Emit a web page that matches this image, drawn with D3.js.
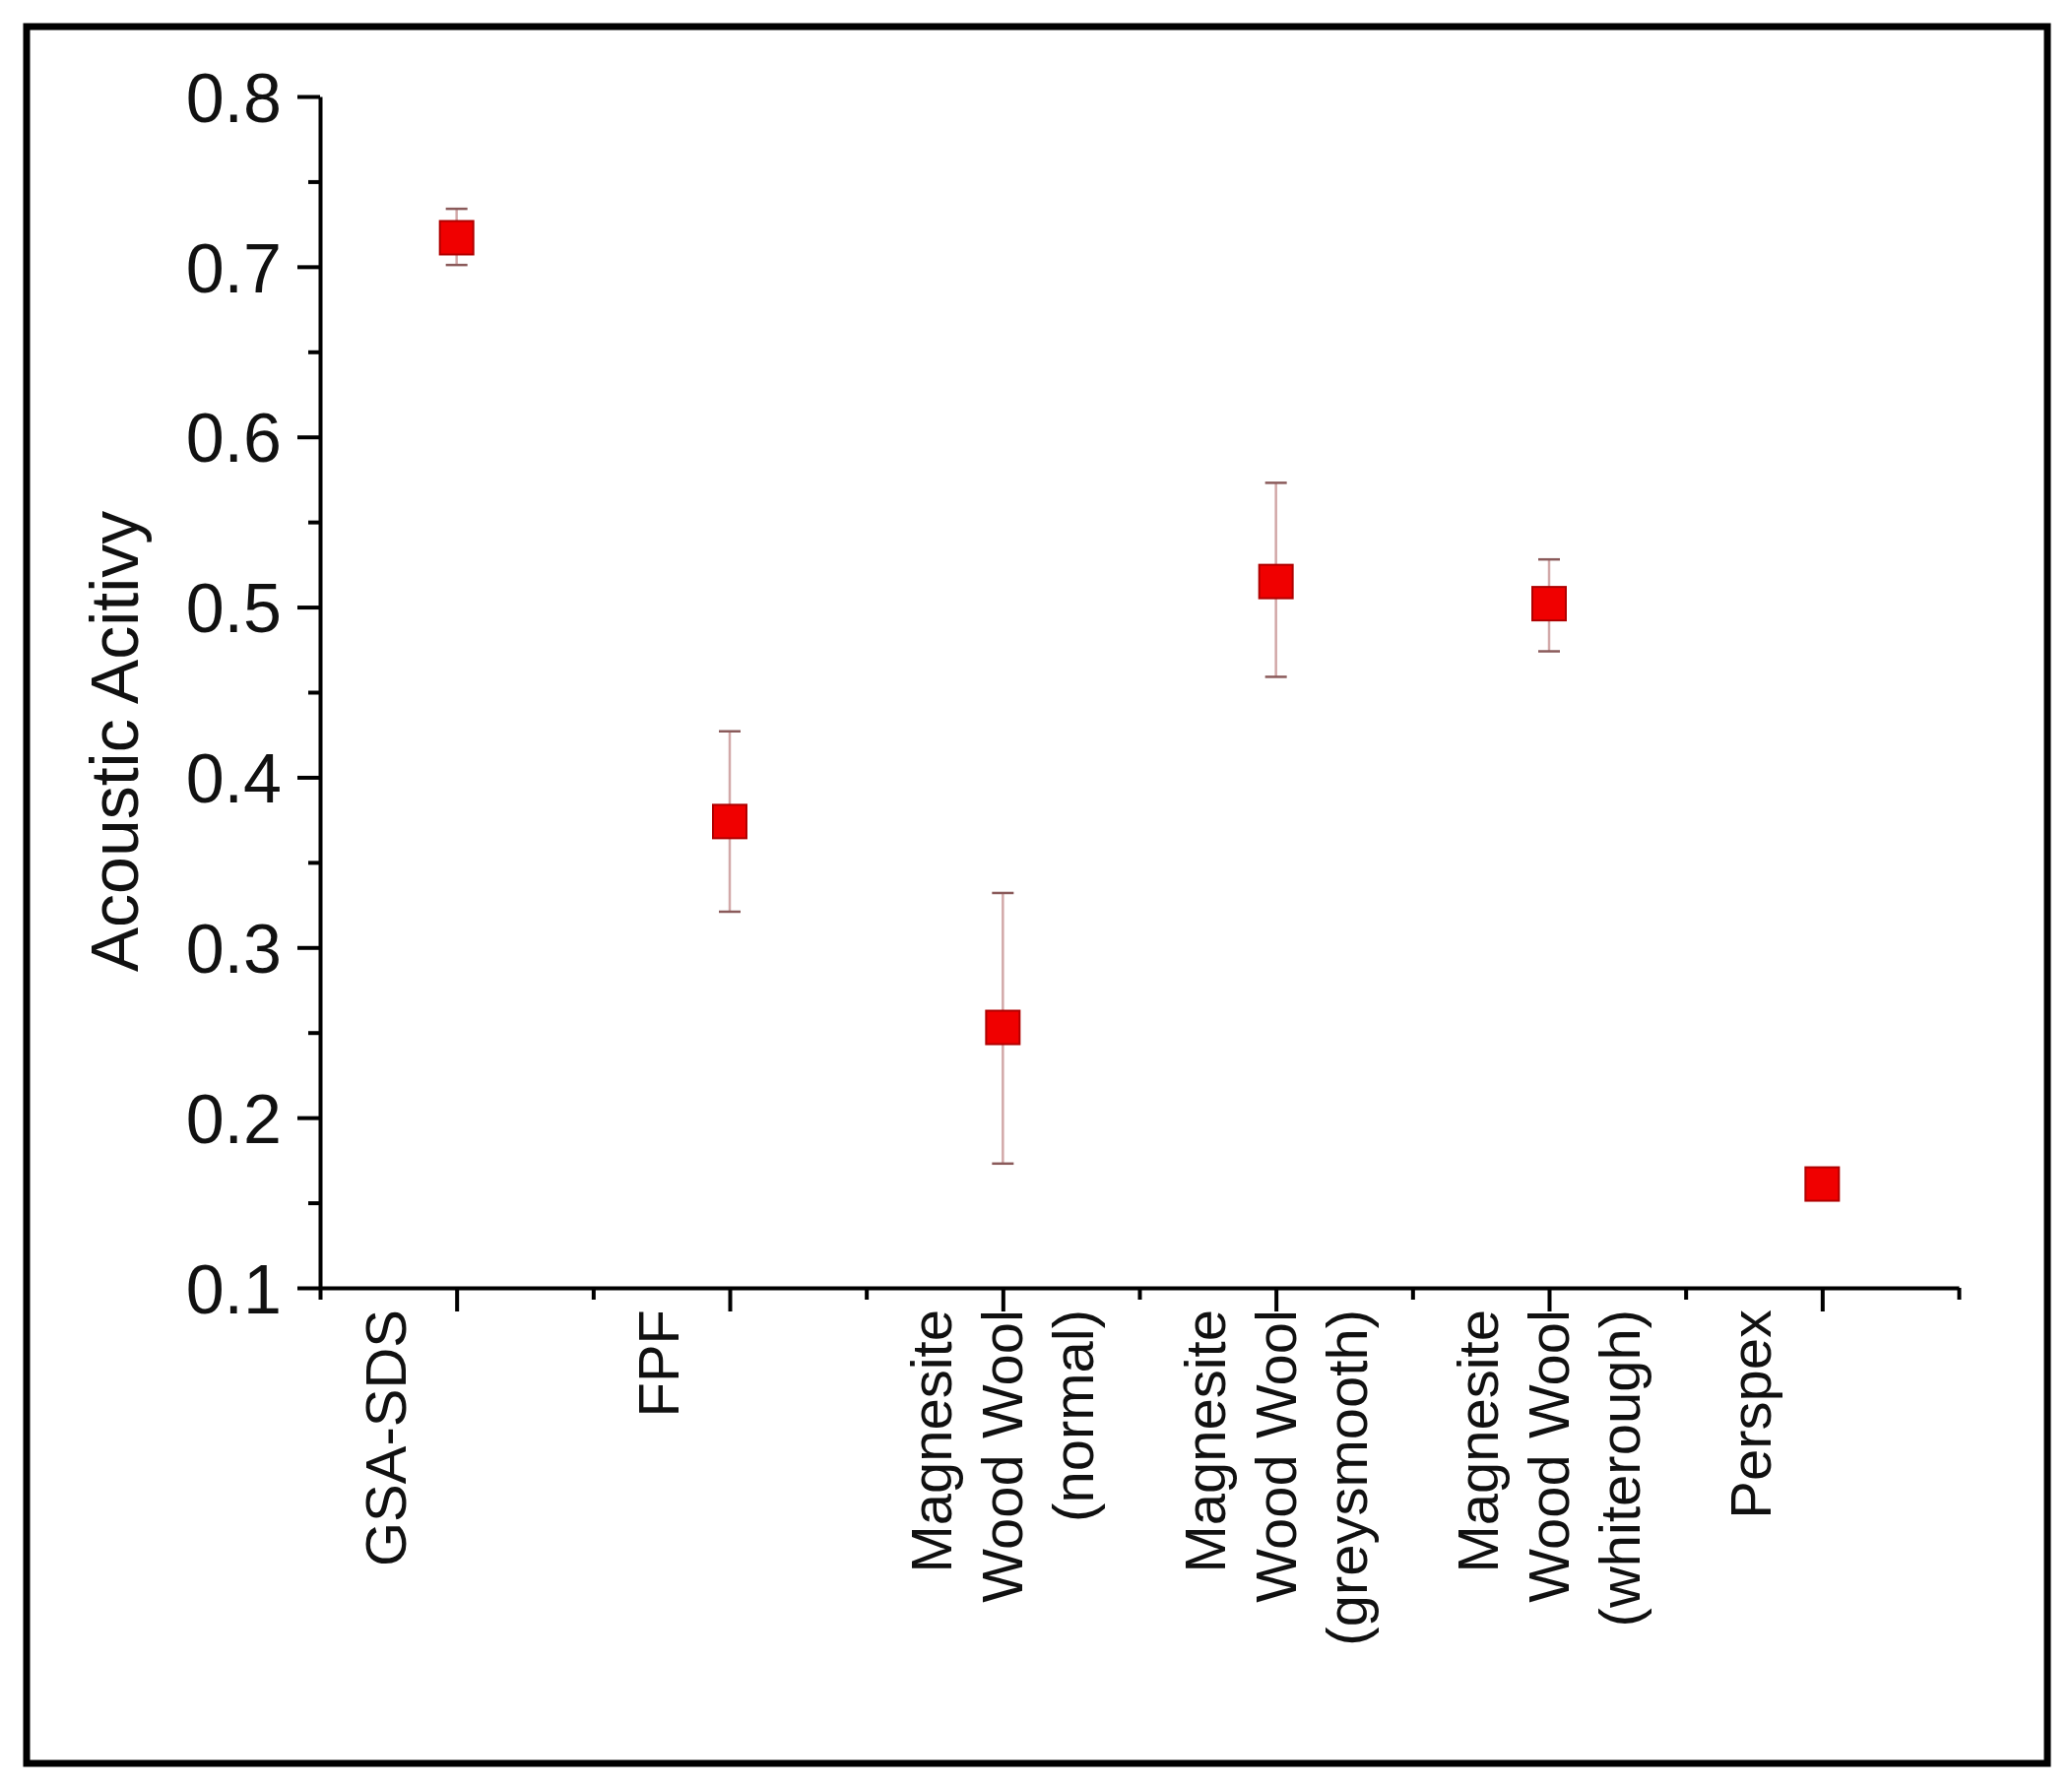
<!DOCTYPE html>
<html>
<head>
<meta charset="utf-8">
<script src="https://cdn.jsdelivr.net/npm/d3@7"></script>
<style>
  body { margin: 0; background: #fff; }
  svg { display: block; }
  text { font-family: "Liberation Sans", Arial, sans-serif; fill: #111; }
</style>
</head>
<body>
<svg id="chart" width="2104" height="1816"></svg>
<script>
// data
var categories = [
  ["GSA-SDS"],
  ["FPF"],
  ["Magnesite", "Wood Wool", "(normal)"],
  ["Magnesite", "Wood Wool", "(greysmooth)"],
  ["Magnesite", "Wood Wool", "(whiterough)"],
  ["Perspex"]
];
var values = [0.717, 0.374, 0.253, 0.515, 0.502, 0.161];
var errLow = [0.701, 0.321, 0.173, 0.459, 0.474, 0.161];
var errHigh = [0.734, 0.427, 0.332, 0.573, 0.528, 0.161];
var yTicks = [0.1, 0.2, 0.3, 0.4, 0.5, 0.6, 0.7, 0.8];
var yMinor = [0.15, 0.25, 0.35, 0.45, 0.55, 0.65, 0.75];
var yTitle = "Acoustic Acitivy";

var svg = d3.select("#chart");

// outer frame
svg.append("rect")
    .attr("x", 27).attr("y", 27)
    .attr("width", 2052).attr("height", 1764)
    .attr("fill", "none")
    .attr("stroke", "#000")
    .attr("stroke-width", 7);

var x = d3.scaleLinear()
    .domain([0.5, categories.length + 0.5])
    .range([325, 1989]);

var y = d3.scaleLinear()
    .domain([0.1, 0.8])
    .range([1308, 98]);

var catPos = categories.map(function(d, i) { return i + 1; });
var catMinor = d3.range(categories.length + 1).map(function(i) { return i + 0.5; });

// y axis, major + minor
var yAxis = svg.append("g")
    .attr("transform", "translate(" + x.range()[0] + ",0)")
    .call(d3.axisLeft(y)
      .tickValues(yTicks)
      .tickSize(23)
      .tickSizeOuter(0)
      .tickPadding(16)
      .tickFormat(d3.format(".1f")));

svg.append("g")
    .attr("transform", "translate(" + x.range()[0] + ",0)")
    .call(d3.axisLeft(y).tickValues(yMinor).tickSize(12).tickFormat(""))
    .select(".domain").remove();

yAxis.selectAll("text")
    .style("font-size", "70px")
    .attr("dy", "0.36em");

// x axis, major + minor
svg.append("g")
    .attr("transform", "translate(0," + y.range()[0] + ")")
    .call(d3.axisBottom(x).tickValues(catPos).tickSize(24).tickSizeOuter(0).tickFormat(""));

svg.append("g")
    .attr("transform", "translate(0," + y.range()[0] + ")")
    .call(d3.axisBottom(x).tickValues(catMinor).tickSize(12).tickFormat(""))
    .select(".domain").remove();

svg.selectAll(".domain, .tick line")
    .attr("stroke", "#000")
    .attr("stroke-width", 4);

// rotated category labels, lines stacked left to right
var lineGap = 72;
var labels = svg.append("g").selectAll(".catlabel")
    .data(categories)
    .enter()
    .append("g")
      .classed("catlabel", true)
      .attr("transform", function(d, i) {
        return "translate(" + x(i + 1) + "," + (y.range()[0] + 22) + ")";
      });

labels.selectAll("text")
    .data(function(d) { return d; })
    .enter()
    .append("text")
      .attr("transform", function(d, j) {
        return "translate(" + ((j - 1) * lineGap + 20) + ",0) rotate(-90)";
      })
      .attr("text-anchor", "end")
      .style("font-size", "58px")
      .text(function(d) { return d; });

// y title
svg.append("text")
    .attr("transform", "translate(140,753) rotate(-90)")
    .attr("text-anchor", "middle")
    .style("font-size", "68px")
    .text(yTitle);

// error bars
var bars = svg.append("g").selectAll(".err")
    .data(values)
    .enter()
    .append("g")
      .classed("err", true);

bars.append("line")
    .attr("x1", function(d, i) { return x(i + 1); })
    .attr("x2", function(d, i) { return x(i + 1); })
    .attr("y1", function(d, i) { return y(errLow[i]); })
    .attr("y2", function(d, i) { return y(errHigh[i]); })
    .attr("stroke", "#d2a8a8")
    .attr("stroke-width", 2.5);

[errLow, errHigh].forEach(function(arr) {
  bars.append("line")
      .attr("x1", function(d, i) { return x(i + 1) - 11; })
      .attr("x2", function(d, i) { return x(i + 1) + 11; })
      .attr("y1", function(d, i) { return y(arr[i]); })
      .attr("y2", function(d, i) { return y(arr[i]); })
      .attr("stroke", function(d, i) { return errLow[i] === errHigh[i] ? "none" : "#8a5a5a"; })
      .attr("stroke-width", 2.5);
});

// square markers
svg.append("g").selectAll(".pt")
    .data(values)
    .enter()
    .append("rect")
      .classed("pt", true)
      .attr("x", function(d, i) { return x(i + 1) - 17; })
      .attr("y", function(d) { return y(d) - 17; })
      .attr("width", 34)
      .attr("height", 34)
      .attr("fill", "#f00000")
      .attr("stroke", "#b00000")
      .attr("stroke-width", 2);
</script>
</body>
</html>
